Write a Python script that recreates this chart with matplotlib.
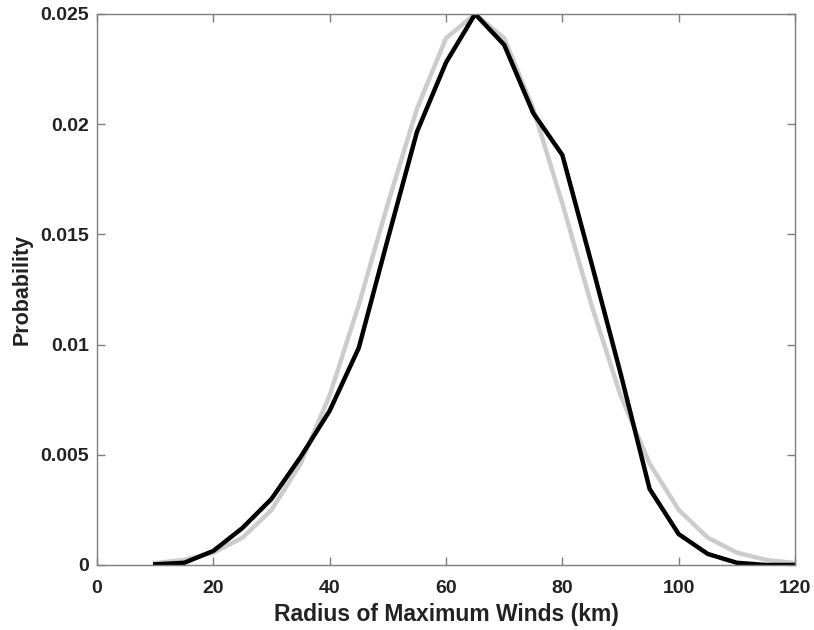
import matplotlib
matplotlib.use("Agg")
import matplotlib.pyplot as plt
from matplotlib import font_manager

# radius of maximum winds bins (km) and the two probability curves
radius = [10, 15, 20, 25, 30, 35, 40, 45, 50, 55, 60, 65,
          70, 75, 80, 85, 90, 95, 100, 105, 110, 115, 120]
fitted = [0.000085, 0.00023, 0.00056, 0.00124, 0.0025, 0.0046, 0.0077, 0.0118,
          0.0164, 0.0207, 0.0239, 0.0250, 0.0239, 0.0207, 0.0164, 0.0118,
          0.0077, 0.0046, 0.0025, 0.00124, 0.00056, 0.00023, 0.000085]
observed = [0.00003, 0.0001, 0.00064, 0.00168, 0.0030, 0.0049, 0.0070, 0.00985,
            0.0148, 0.01965, 0.0228, 0.0250, 0.0236, 0.0205, 0.0186, 0.0137,
            0.0087, 0.00345, 0.0014, 0.0005, 0.0001, 0.0, 0.0]

xticks = [0, 20, 40, 60, 80, 100, 120]
yticks = [0, 0.005, 0.01, 0.015, 0.02, 0.025]
yticklabels = ["0", "0.005", "0.01", "0.015", "0.02", "0.025"]

plt.rcParams["font.family"] = ["Liberation Sans", "DejaVu Sans"]
plt.rcParams["font.weight"] = "bold"

# narrow face for the x-axis title when it is installed
names = {f.name for f in font_manager.fontManager.ttflist}
if "Liberation Sans Narrow" in names:
    xlabel_font, xlabel_size = ["Liberation Sans Narrow", "Liberation Sans"], 19.5
else:
    xlabel_font, xlabel_size = ["Liberation Sans", "DejaVu Sans"], 16.5

fig = plt.figure(figsize=(8.14, 6.30), dpi=100)
ax = fig.add_axes([0.1192, 0.1032, 0.8575, 0.8746])

ax.plot(radius, fitted, color="#cccccc", linewidth=3.2, solid_joinstyle="miter")
ax.plot(radius, observed, color="black", linewidth=3.2, solid_joinstyle="miter")

ax.set_xlim(0, 120)
ax.set_ylim(0, 0.025)
ax.set_xticks(xticks)
ax.set_yticks(yticks)
ax.set_yticklabels(yticklabels)

for side in ax.spines.values():
    side.set_color("#7f7f7f")
    side.set_linewidth(1.0)
ax.tick_params(direction="in", top=True, right=True, length=6, width=1.0,
               color="#7f7f7f", labelsize=14, labelcolor="#222222")
ax.tick_params(axis="x", pad=11)
ax.tick_params(axis="y", pad=6)
for lbl in ax.get_xticklabels() + ax.get_yticklabels():
    lbl.set_fontweight("bold")

ax.set_xlabel("Radius of Maximum Winds (km)", fontsize=xlabel_size, fontweight="bold",
              family=xlabel_font, color="#222222", labelpad=4)
ax.set_ylabel("Probability", fontsize=15.5, fontweight="bold",
              color="#222222", labelpad=5)

fig.savefig("out.png", dpi=100)
